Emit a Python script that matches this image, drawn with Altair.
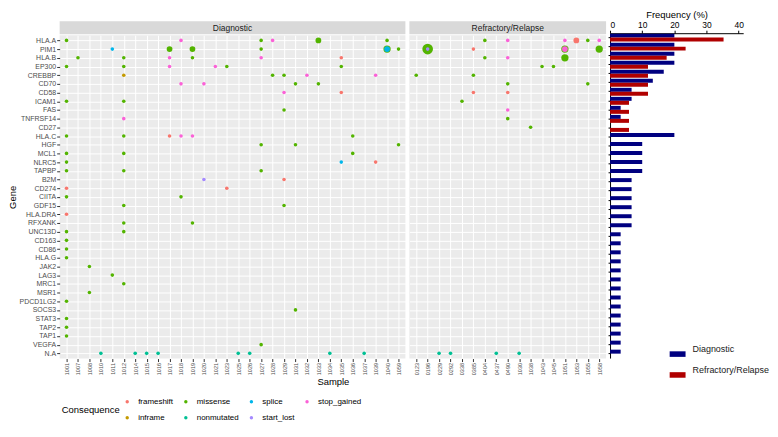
import altair as alt
import pandas as pd

genes = ["HLA.A", "PIM1", "HLA.B", "EP300", "CREBBP", "CD70", "CD58", "ICAM1", "FAS",
         "TNFRSF14", "CD27", "HLA.C", "HGF", "MCL1", "NLRC5", "TAPBP", "B2M", "CD274",
         "CIITA", "GDF15", "HLA.DRA", "RFXANK", "UNC13D", "CD163", "CD86", "HLA.G",
         "JAK2", "LAG3", "MRC1", "MSR1", "PDCD1LG2", "SOCS3", "STAT3", "TAP2", "TAP1",
         "VEGFA", "N.A"]

diag_samples = ["1001", "1007", "1008", "1010", "1011", "1012", "1014", "1015", "1016",
                "1017", "1018", "1019", "1020", "1021", "1023", "1025", "1026", "1027",
                "1028", "1029", "1031", "1032", "1033", "1034", "1035", "1036", "1037",
                "1039", "1040", "1059"]
ref_samples = ["0123", "0196", "0229", "0292", "0338", "0385", "0404", "0437", "0490",
               "1030", "1038", "1043", "1045", "1051", "1053", "1055", "1058"]

# legend display order (ggplot fills legend columns first)
cons_domain = ["frameshift", "missense", "splice", "stop_gained",
               "inframe", "nonmutated", "start_lost"]
cons_colors = ["#F8766D", "#53B400", "#00B6EB", "#FB61D7",
               "#C49A00", "#00C094", "#A58AFF"]

# (gene, sample, consequence, count)
diag_points = [
    ("HLA.A", "1001", "missense", 1), ("HLA.A", "1018", "stop_gained", 1),
    ("HLA.A", "1027", "missense", 1), ("HLA.A", "1028", "stop_gained", 1),
    ("HLA.A", "1033", "missense", 2), ("HLA.A", "1040", "missense", 1),
    ("PIM1", "1011", "splice", 1), ("PIM1", "1017", "missense", 2),
    ("PIM1", "1019", "missense", 2), ("PIM1", "1027", "missense", 1),
    ("PIM1", "1040", "missense", 3), ("PIM1", "1040", "splice", 2),
    ("PIM1", "1059", "missense", 1),
    ("HLA.B", "1007", "missense", 1), ("HLA.B", "1012", "missense", 1),
    ("HLA.B", "1017", "stop_gained", 1), ("HLA.B", "1019", "missense", 1),
    ("HLA.B", "1027", "stop_gained", 1), ("HLA.B", "1035", "frameshift", 1),
    ("EP300", "1001", "missense", 1), ("EP300", "1012", "missense", 1),
    ("EP300", "1017", "stop_gained", 1), ("EP300", "1021", "stop_gained", 1),
    ("EP300", "1023", "missense", 1), ("EP300", "1035", "missense", 1),
    ("CREBBP", "1012", "inframe", 1), ("CREBBP", "1028", "missense", 1),
    ("CREBBP", "1029", "missense", 1), ("CREBBP", "1032", "stop_gained", 1),
    ("CREBBP", "1039", "stop_gained", 1),
    ("CD70", "1018", "stop_gained", 1), ("CD70", "1020", "stop_gained", 1),
    ("CD70", "1031", "missense", 1), ("CD70", "1033", "missense", 1),
    ("CD58", "1029", "stop_gained", 1), ("CD58", "1035", "frameshift", 1),
    ("ICAM1", "1001", "missense", 1), ("ICAM1", "1012", "missense", 1),
    ("FAS", "1029", "missense", 1),
    ("TNFRSF14", "1012", "stop_gained", 1),
    ("HLA.C", "1001", "missense", 1), ("HLA.C", "1012", "missense", 1),
    ("HLA.C", "1017", "frameshift", 1), ("HLA.C", "1018", "stop_gained", 1),
    ("HLA.C", "1019", "stop_gained", 1), ("HLA.C", "1036", "missense", 1),
    ("HGF", "1027", "missense", 1), ("HGF", "1031", "missense", 1),
    ("HGF", "1059", "missense", 1),
    ("MCL1", "1001", "missense", 1), ("MCL1", "1012", "missense", 1),
    ("MCL1", "1036", "missense", 1),
    ("NLRC5", "1001", "missense", 1), ("NLRC5", "1035", "splice", 1),
    ("NLRC5", "1039", "frameshift", 1),
    ("TAPBP", "1001", "missense", 1), ("TAPBP", "1012", "missense", 1),
    ("TAPBP", "1027", "missense", 1),
    ("B2M", "1020", "start_lost", 1), ("B2M", "1029", "frameshift", 1),
    ("CD274", "1001", "frameshift", 1), ("CD274", "1023", "frameshift", 1),
    ("CIITA", "1001", "missense", 1), ("CIITA", "1018", "missense", 1),
    ("GDF15", "1012", "missense", 1), ("GDF15", "1029", "missense", 1),
    ("HLA.DRA", "1001", "frameshift", 1),
    ("RFXANK", "1012", "missense", 1), ("RFXANK", "1019", "missense", 1),
    ("UNC13D", "1001", "missense", 1), ("UNC13D", "1012", "missense", 1),
    ("CD163", "1001", "missense", 1), ("CD86", "1001", "missense", 1),
    ("HLA.G", "1001", "missense", 1), ("JAK2", "1008", "missense", 1),
    ("LAG3", "1011", "missense", 1), ("MRC1", "1012", "missense", 1),
    ("MSR1", "1008", "missense", 1), ("PDCD1LG2", "1001", "missense", 1),
    ("SOCS3", "1031", "missense", 1), ("STAT3", "1001", "missense", 1),
    ("TAP2", "1001", "missense", 1), ("TAP1", "1001", "missense", 1),
    ("VEGFA", "1027", "missense", 1),
    ("N.A", "1010", "nonmutated", 1), ("N.A", "1014", "nonmutated", 1),
    ("N.A", "1015", "nonmutated", 1), ("N.A", "1016", "nonmutated", 1),
    ("N.A", "1025", "nonmutated", 1), ("N.A", "1026", "nonmutated", 1),
    ("N.A", "1034", "nonmutated", 1), ("N.A", "1037", "nonmutated", 1),
]

ref_points = [
    ("HLA.A", "0404", "missense", 1), ("HLA.A", "0490", "stop_gained", 1),
    ("HLA.A", "1051", "stop_gained", 1), ("HLA.A", "1053", "frameshift", 2),
    ("HLA.A", "1055", "missense", 1), ("HLA.A", "1058", "stop_gained", 1),
    ("PIM1", "0196", "missense", 6), ("PIM1", "0196", "start_lost", 1),
    ("PIM1", "0385", "frameshift", 1), ("PIM1", "1051", "missense", 3),
    ("PIM1", "1051", "stop_gained", 2), ("PIM1", "1058", "missense", 3),
    ("HLA.B", "0404", "missense", 1), ("HLA.B", "0490", "stop_gained", 1),
    ("HLA.B", "1051", "missense", 3),
    ("EP300", "1043", "missense", 1), ("EP300", "1045", "missense", 1),
    ("CREBBP", "0123", "missense", 1), ("CREBBP", "0385", "missense", 1),
    ("CD70", "0490", "missense", 1), ("CD70", "1055", "missense", 1),
    ("CD58", "0385", "frameshift", 1), ("CD58", "0490", "frameshift", 1),
    ("ICAM1", "0338", "missense", 1),
    ("FAS", "0490", "stop_gained", 1),
    ("TNFRSF14", "0490", "missense", 1),
    ("CD27", "1038", "missense", 1),
    ("N.A", "0229", "nonmutated", 1), ("N.A", "0292", "nonmutated", 1),
    ("N.A", "0437", "nonmutated", 1), ("N.A", "1030", "nonmutated", 1),
]

size_domain = [1, 6]
size_range = [13, 115]

bar_genes = genes[:-1]
groups = ["Diagnostic", "Refractory/Relapse"]
freq_diag = [20, 20, 20, 20, 16.7, 13.3, 6.7, 6.7, 3.3, 3.3, 0, 20, 10, 10, 10, 10,
             6.7, 6.7, 6.7, 6.7, 6.7, 6.7, 3.3, 3.3, 3.3, 3.3, 3.3, 3.3, 3.3, 3.3,
             3.3, 3.3, 3.3, 3.3, 3.3, 3.3]
freq_ref = [35.3, 23.5, 17.6, 11.8, 11.8, 11.8, 11.8, 5.9, 5.9, 5.9, 5.9, 0, 0, 0, 0, 0,
            0, 0, 0, 0, 0, 0, 0, 0, 0, 0, 0, 0, 0, 0, 0, 0, 0, 0, 0, 0]

FONT = "Liberation Sans"
H = 325.5
W_DIAG = 348
W_REF = 198
W_BAR = 134


def to_df(points):
    return pd.DataFrame(points, columns=["gene", "sample", "consequence", "n"])


def dot_panel(points, samples, label, width, first):
    strip_df = pd.DataFrame({"panel": [label]})
    strip = alt.Chart(strip_df).mark_rect(color="#D9D9D9").encode(
        x=alt.value(0), x2=alt.value(width), y=alt.value(-14), y2=alt.value(-1))
    strip_text = alt.Chart(strip_df).mark_text(
        font=FONT, fontSize=8.5, color="#1A1A1A").encode(
        x=alt.value(width / 2), y=alt.value(-7.5), text="panel:N")

    if first:
        yaxis = alt.Axis(title="Gene", titleFont=FONT, titleFontSize=9.5,
                         titleFontWeight="normal", titleColor="black", titlePadding=1,
                         labelFont=FONT, labelFontSize=7, labelColor="#4D4D4D",
                         labelPadding=1, tickSize=3, tickColor="#333333", domain=False,
                         grid=True, gridColor="white", gridWidth=1)
        xaxis = alt.Axis(title="Sample", titleFont=FONT, titleFontSize=9.5,
                         titleFontWeight="normal", titleColor="black",
                         titleX=(W_DIAG + 4 + W_REF) / 2, titlePadding=2,
                         labelAngle=-90, labelFont=FONT, labelFontSize=5.5,
                         labelColor="#4D4D4D", labelPadding=1, tickSize=3,
                         tickColor="#333333", domain=False, grid=True,
                         gridColor="white", gridWidth=1)
        legend = alt.Legend(orient="none", legendX=2, legendY=365, columns=4,
                            direction="horizontal", title="Consequence",
                            titleOrient="left", titleFont=FONT, titleFontSize=9.5,
                            titleFontWeight="normal", titleColor="black",
                            titlePadding=3, titleBaseline="middle",
                            labelFont=FONT, labelFontSize=8, labelColor="black",
                            labelOffset=7, symbolSize=12, symbolType="circle",
                            columnPadding=8, rowPadding=8)
    else:
        yaxis = alt.Axis(title=None, labels=False, ticks=False, domain=False,
                         grid=True, gridColor="white", gridWidth=1)
        xaxis = alt.Axis(title=None, labelAngle=-90, labelFont=FONT, labelFontSize=5.5,
                         labelColor="#4D4D4D", labelPadding=1, tickSize=3,
                         tickColor="#333333", domain=False, grid=True,
                         gridColor="white", gridWidth=1)
        legend = None

    pts = alt.Chart(to_df(points)).mark_circle(opacity=1).encode(
        x=alt.X("sample:N", scale=alt.Scale(type="point", domain=samples, padding=0.6),
                axis=xaxis),
        y=alt.Y("gene:N", scale=alt.Scale(type="point", domain=genes, padding=0.6),
                axis=yaxis),
        color=alt.Color("consequence:N",
                        scale=alt.Scale(domain=cons_domain, range=cons_colors),
                        legend=legend),
        size=alt.Size("n:Q", scale=alt.Scale(type="linear", domain=size_domain,
                                             range=size_range, zero=False),
                      legend=None),
        order=alt.Order("n:Q", sort="descending"),
    )
    return alt.layer(strip, strip_text, pts).properties(
        width=width, height=H,
        view=alt.ViewBackground(fill="#EBEBEB", stroke=None))


diag = dot_panel(diag_points, diag_samples, "Diagnostic", W_DIAG, True)
ref = dot_panel(ref_points, ref_samples, "Refractory/Relapse", W_REF, False)

bar_df = pd.DataFrame({
    "gene": bar_genes * 2,
    "group": [groups[0]] * len(bar_genes) + [groups[1]] * len(bar_genes),
    "freq": freq_diag + freq_ref,
})

bars = alt.Chart(bar_df).mark_bar().encode(
    y=alt.Y("gene:N", scale=alt.Scale(domain=bar_genes, range=[-2, 325],
                                      paddingInner=0.12, paddingOuter=0.05),
            axis=alt.Axis(title=None, labels=False, ticks=True, tickSize=2,
                          tickColor="black", domain=True, domainColor="black",
                          grid=False)),
    yOffset=alt.YOffset("group:N", scale=alt.Scale(domain=groups)),
    x=alt.X("freq:Q", scale=alt.Scale(domain=[0, 41.4], nice=False),
            axis=alt.Axis(orient="top", values=[0, 10, 20, 30, 40], offset=2,
                          title="Frequency (%)", titleFont=FONT, titleFontSize=9.5,
                          titleFontWeight="normal", titleColor="black", titlePadding=1,
                          labelFont=FONT, labelFontSize=8.5, labelColor="black",
                          labelPadding=1, tickSize=3, tickColor="black",
                          domainColor="black", grid=False)),
    color=alt.Color("group:N", scale=alt.Scale(domain=groups, range=["#000080", "#B00000"]),
                    legend=alt.Legend(orient="none", legendX=60, legendY=313, title=None,
                                      symbolType="M-1,-0.35H1V0.35H-1Z", symbolSize=256,
                                      symbolStrokeWidth=0, labelFont=FONT,
                                      labelFontSize=9, labelColor="#1A1A1A",
                                      labelBaseline="bottom", labelOffset=7,
                                      rowPadding=9)),
).properties(width=W_BAR, height=H, view=alt.ViewBackground(fill=None, stroke=None))

chart = alt.hconcat(diag, ref, bars, spacing=4, bounds="flush").resolve_scale(
    x="independent", y="independent", color="independent", size="independent"
).properties(padding=0, background="white")

chart.save("out.html", embed_options={"renderer": "svg", "actions": False})
